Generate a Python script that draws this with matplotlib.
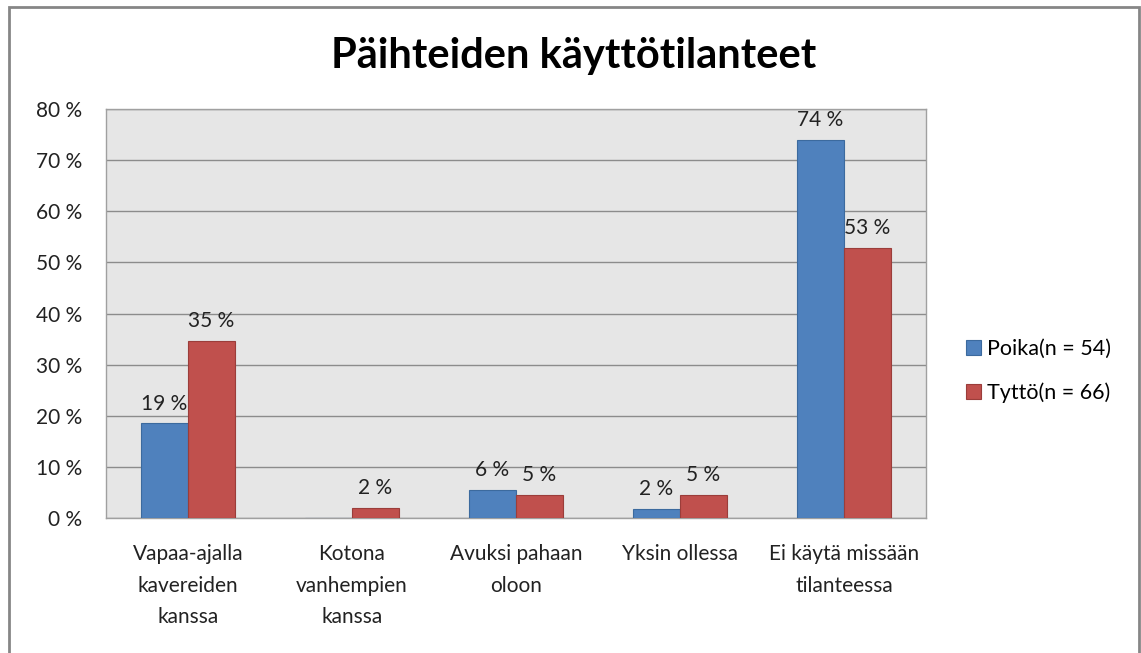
import matplotlib.pyplot as plt
from matplotlib.patches import Rectangle
import numpy as np

plt.rcParams['font.family'] = ['Lato', 'DejaVu Sans']

categories = ['Vapaa-ajalla\nkavereiden\nkanssa', 'Kotona\nvanhempien\nkanssa',
              'Avuksi pahaan\noloon', 'Yksin ollessa', 'Ei käytä missään\ntilanteessa']
poika = [18.5, 0, 5.5, 1.8, 74]
tytto = [34.7, 2.0, 4.5, 4.5, 52.8]
poika_labels = ['19 %', '', '6 %', '2 %', '74 %']
tytto_labels = ['35 %', '2 %', '5 %', '5 %', '53 %']
series_names = ['Poika(n = 54)', 'Tyttö(n = 66)']
yticks = [0, 10, 20, 30, 40, 50, 60, 70, 80]

fig = plt.figure(figsize=(11.41, 6.53), dpi=100)
ax = fig.add_axes([0.0929, 0.2067, 0.7187, 0.6264])

# outer chart frame
fig.patches.append(Rectangle((8.5 / 1141, -0.05), 1130 / 1141, 1.05 - 7.5 / 653,
                             transform=fig.transFigure, fill=False,
                             edgecolor='#868686', linewidth=2))

x = np.arange(len(categories))
w = 0.287
b1 = ax.bar(x - w / 2, poika, width=w, color='#4F81BD', edgecolor='#3C6A9E',
            linewidth=0.8, label=series_names[0], zorder=3)
b2 = ax.bar(x + w / 2, tytto, width=w, color='#C0504D', edgecolor='#9B3D3A',
            linewidth=0.8, label=series_names[1], zorder=3)

for bars, labs in ((b1, poika_labels), (b2, tytto_labels)):
    for rect, lab in zip(bars, labs):
        if lab:
            ax.annotate(lab, (rect.get_x() + rect.get_width() / 2, rect.get_height()),
                        xytext=(0, 7), textcoords='offset points',
                        ha='center', va='bottom', fontsize=15, color='#222222')

ax.set_facecolor('#E6E6E6')
ax.set_xlim(-0.5, len(categories) - 0.5)
ax.set_ylim(0, 80)
ax.set_yticks(yticks)
ax.set_yticklabels([f'{v} %' for v in yticks], fontsize=15, color='#222222')
ax.set_xticks(x)
ax.set_xticklabels(categories, fontsize=15, color='#222222', linespacing=1.7)
ax.tick_params(axis='both', length=0)
ax.tick_params(axis='y', pad=17)
ax.tick_params(axis='x', pad=19)
ax.yaxis.grid(True, color='#8C8C8C', linewidth=1, zorder=0)
ax.set_axisbelow(True)
for s in ax.spines.values():
    s.set_color('#A0A0A0')
    s.set_linewidth(1)

fig.text(0.503, 0.915, 'Päihteiden käyttötilanteet', ha='center', va='center',
         fontsize=30, fontweight='bold', color='black')

ax.legend(loc='center left', bbox_to_anchor=(1.025, 0.36), frameon=False,
          fontsize=15.5, handlelength=0.7, handleheight=0.7, handletextpad=0.3,
          labelspacing=1.1)

plt.savefig('out.png', dpi=100)
